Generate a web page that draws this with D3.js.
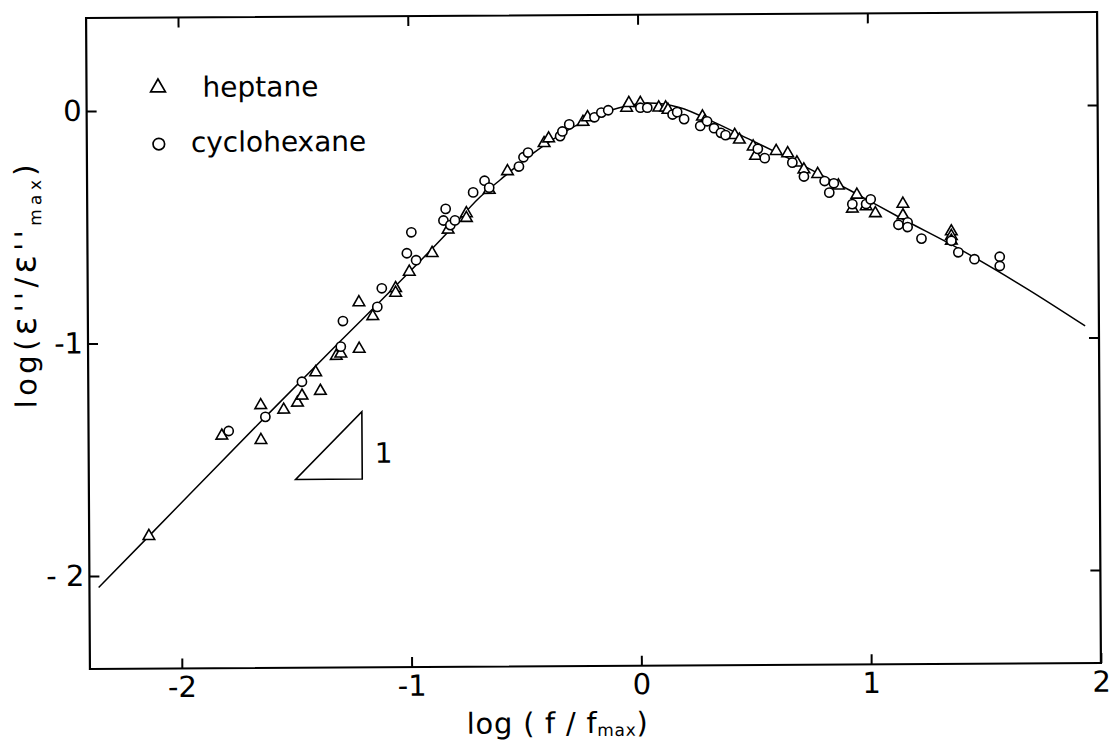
<!DOCTYPE html>
<html>
<head>
<meta charset="utf-8">
<script src="https://cdn.jsdelivr.net/npm/d3@7"></script>
<style>
  html, body { margin: 0; padding: 0; background: #fff; }
  svg { display: block; }
</style>
</head>
<body>
<svg id="chart" width="1112" height="744"></svg>
<script>
// Normalised dielectric loss vs normalised frequency

// heptane: [log(f/fmax), log(eps''/eps''max)]
const heptane = [
  [-2.14,-1.83], [-1.82,-1.40], [-1.65,-1.27], [-1.65,-1.42], [-1.55,-1.29],
  [-1.49,-1.26], [-1.47,-1.23], [-1.41,-1.13], [-1.39,-1.21], [-1.32,-1.06],
  [-1.30,-1.05], [-1.22,-1.03], [-1.22,-0.83], [-1.16,-0.89], [-1.06,-0.77],
  [-1.06,-0.79], [-1.00,-0.70], [-0.90,-0.62], [-0.83,-0.52], [-0.75,-0.45],
  [-0.75,-0.47], [-0.65,-0.35], [-0.57,-0.27], [-0.41,-0.15], [-0.39,-0.13],
  [-0.24,-0.06], [-0.22,-0.04], [-0.05,0.00], [-0.04,0.02], [0.01,0.02],
  [0.09,0.00], [0.12,0.00], [0.13,-0.01], [0.28,-0.04], [0.29,-0.06],
  [0.42,-0.12], [0.44,-0.14], [0.50,-0.17], [0.51,-0.21], [0.60,-0.19],
  [0.65,-0.20], [0.69,-0.24], [0.72,-0.27], [0.78,-0.29], [0.87,-0.34],
  [0.95,-0.38], [0.93,-0.44], [0.99,-0.43], [1.03,-0.46], [1.15,-0.42],
  [1.15,-0.47], [1.36,-0.54], [1.36,-0.56], [1.36,-0.58]
];

// cyclohexane
const cyclohexane = [
  [-1.79,-1.38], [-1.63,-1.32], [-1.47,-1.17], [-1.30,-1.02], [-1.29,-0.91],
  [-1.14,-0.85], [-1.12,-0.77], [-1.01,-0.62], [-0.97,-0.65], [-0.99,-0.53],
  [-0.85,-0.48], [-0.82,-0.50], [-0.80,-0.48], [-0.84,-0.43], [-0.72,-0.36],
  [-0.67,-0.31], [-0.65,-0.34], [-0.52,-0.25], [-0.50,-0.21], [-0.48,-0.19],
  [-0.34,-0.12], [-0.33,-0.10], [-0.30,-0.07], [-0.19,-0.04], [-0.16,-0.02],
  [-0.13,-0.01], [0.01,0.00], [0.04,0.00], [0.15,-0.03], [0.17,-0.02],
  [0.20,-0.05], [0.27,-0.08], [0.30,-0.06], [0.33,-0.09], [0.36,-0.11],
  [0.38,-0.12], [0.52,-0.18], [0.55,-0.22], [0.67,-0.24], [0.72,-0.30],
  [0.81,-0.32], [0.83,-0.37], [0.85,-0.33], [0.93,-0.42], [0.99,-0.42],
  [1.01,-0.40], [1.13,-0.51], [1.17,-0.50], [1.17,-0.52], [1.23,-0.57],
  [1.36,-0.58], [1.39,-0.63], [1.46,-0.66], [1.57,-0.65], [1.57,-0.69]
];

// fitted master curve
const masterCurve = [
  [-2.36,-2.05], [-2.14,-1.83], [-1.63,-1.32], [-1.30,-0.995], [-1.08,-0.78],
  [-0.85,-0.55], [-0.69,-0.38], [-0.60,-0.305], [-0.46,-0.195], [-0.31,-0.097],
  [-0.18,-0.032], [-0.05,0.008], [0.04,0.02], [0.18,0.0], [0.33,-0.064],
  [0.48,-0.137], [0.61,-0.200], [0.79,-0.291], [0.95,-0.377], [1.14,-0.481],
  [1.39,-0.613], [1.69,-0.79], [1.94,-0.95]
];

// slope-one guide triangle
const slopeTriangle = [[-1.50,-1.59], [-1.21,-1.59], [-1.21,-1.30]];
const slopeLabel = [-1.155, -1.52];

const xTicks = [-2, -1, 0, 1, 2];
const xTickLabels = ["-2", "-1", "0", "1", "2"];
const yTicks = [-2, -1, 0];
const yTickLabels = ["- 2", "-1", "0"];

const FONT = "'DejaVu Sans', sans-serif";
const svg = d3.select("#chart");
const mLeft = 88, mTop = 15, plotW = 1011, plotH = 651;

const x = d3.scaleLinear().domain([-2.4, 2.0]).range([mLeft, mLeft + plotW]);
const y = d3.scaleLinear().domain([-2.4, 0.4]).range([mTop + plotH, mTop]);

// the whole sheet sits very slightly tilted
const g = svg.append("g").attr("transform", "rotate(-0.34, 594, 340)");

// frame
g.append("rect")
  .attr("x", mLeft).attr("y", mTop).attr("width", plotW).attr("height", plotH)
  .attr("fill", "none").attr("stroke", "#000").attr("stroke-width", 2.2);

function styleAxis(sel) {
  sel.select(".domain").remove();
  sel.selectAll(".tick line").attr("stroke", "#000").attr("stroke-width", 2);
  sel.selectAll(".tick text").attr("fill", "#000");
  sel.attr("font-family", FONT).attr("font-size", 29);
}

g.append("g").attr("transform", `translate(0,${mTop + plotH})`)
  .call(d3.axisBottom(x).tickValues(xTicks).tickFormat((d, i) => xTickLabels[i])
    .tickSize(-10).tickSizeOuter(0).tickPadding(8))
  .call(styleAxis);

g.append("g").attr("transform", `translate(0,${mTop})`)
  .call(d3.axisTop(x).tickValues(xTicks.slice(0, -1)).tickFormat("")
    .tickSize(-10).tickSizeOuter(0))
  .call(styleAxis);

g.append("g").attr("transform", `translate(${mLeft},0)`)
  .call(d3.axisLeft(y).tickValues(yTicks).tickFormat((d, i) => yTickLabels[i])
    .tickSize(-10).tickSizeOuter(0).tickPadding(5))
  .call(styleAxis);

g.append("g").attr("transform", `translate(${mLeft + plotW},0)`)
  .call(d3.axisRight(y).tickValues(yTicks).tickFormat("")
    .tickSize(-10).tickSizeOuter(0))
  .call(styleAxis);

// master curve
g.append("path")
  .datum(masterCurve)
  .attr("fill", "none").attr("stroke", "#000").attr("stroke-width", 1.5)
  .attr("d", d3.line().x(d => x(d[0])).y(d => y(d[1])).curve(d3.curveMonotoneX));

// slope guide
g.append("path")
  .datum(slopeTriangle)
  .attr("fill", "none").attr("stroke", "#000").attr("stroke-width", 1.6)
  .attr("d", d3.line().x(d => x(d[0])).y(d => y(d[1])).curve(d3.curveLinearClosed));
g.append("text")
  .attr("x", x(slopeLabel[0])).attr("y", y(slopeLabel[1]))
  .attr("font-family", FONT).attr("font-size", 28).text("1");

// data markers
const tri = d3.symbol(d3.symbolTriangle).size(58);
g.append("g").selectAll("path").data(heptane).join("path")
  .attr("transform", d => `translate(${x(d[0])},${y(d[1])})`)
  .attr("d", tri)
  .attr("fill", "#fff").attr("stroke", "#000").attr("stroke-width", 1.6);

g.append("g").selectAll("circle").data(cyclohexane).join("circle")
  .attr("cx", d => x(d[0])).attr("cy", d => y(d[1])).attr("r", 4.6)
  .attr("fill", "#fff").attr("stroke", "#000").attr("stroke-width", 1.6);

// legend
g.append("path")
  .attr("transform", "translate(159.5,85)")
  .attr("d", d3.symbol(d3.symbolTriangle).size(95))
  .attr("fill", "#fff").attr("stroke", "#000").attr("stroke-width", 1.7);
g.append("text").attr("x", 204).attr("y", 94.5)
  .attr("font-family", FONT).attr("font-size", 28).text("heptane");
g.append("circle").attr("cx", 160).attr("cy", 141.5).attr("r", 5.8)
  .attr("fill", "#fff").attr("stroke", "#000").attr("stroke-width", 1.7);
g.append("text").attr("x", 192).attr("y", 149.5)
  .attr("font-family", FONT).attr("font-size", 28).text("cyclohexane");

// axis titles
const xt = g.append("text")
  .attr("x", 555).attr("y", 733).attr("text-anchor", "middle")
  .attr("font-family", FONT).attr("font-size", 29)
  .attr("textLength", 181).attr("lengthAdjust", "spacing");
xt.append("tspan").text("log ( f / f");
xt.append("tspan").attr("font-size", 17).attr("dy", 3).text("max");
xt.append("tspan").attr("dy", -3).text(")");

const yt = g.append("text")
  .attr("transform", "translate(36,283) rotate(-90)")
  .attr("text-anchor", "middle")
  .attr("font-family", FONT).attr("font-size", 29)
  .attr("textLength", 244).attr("lengthAdjust", "spacing");
yt.append("tspan").text("log(");
yt.append("tspan").attr("font-size", 34).text("ε");
yt.append("tspan").text("''/");
yt.append("tspan").attr("font-size", 34).text("ε");
yt.append("tspan").text("''");
yt.append("tspan").attr("font-size", 17).attr("dy", 6).text("max");
yt.append("tspan").attr("dy", -6).text(")");
</script>
</body>
</html>
